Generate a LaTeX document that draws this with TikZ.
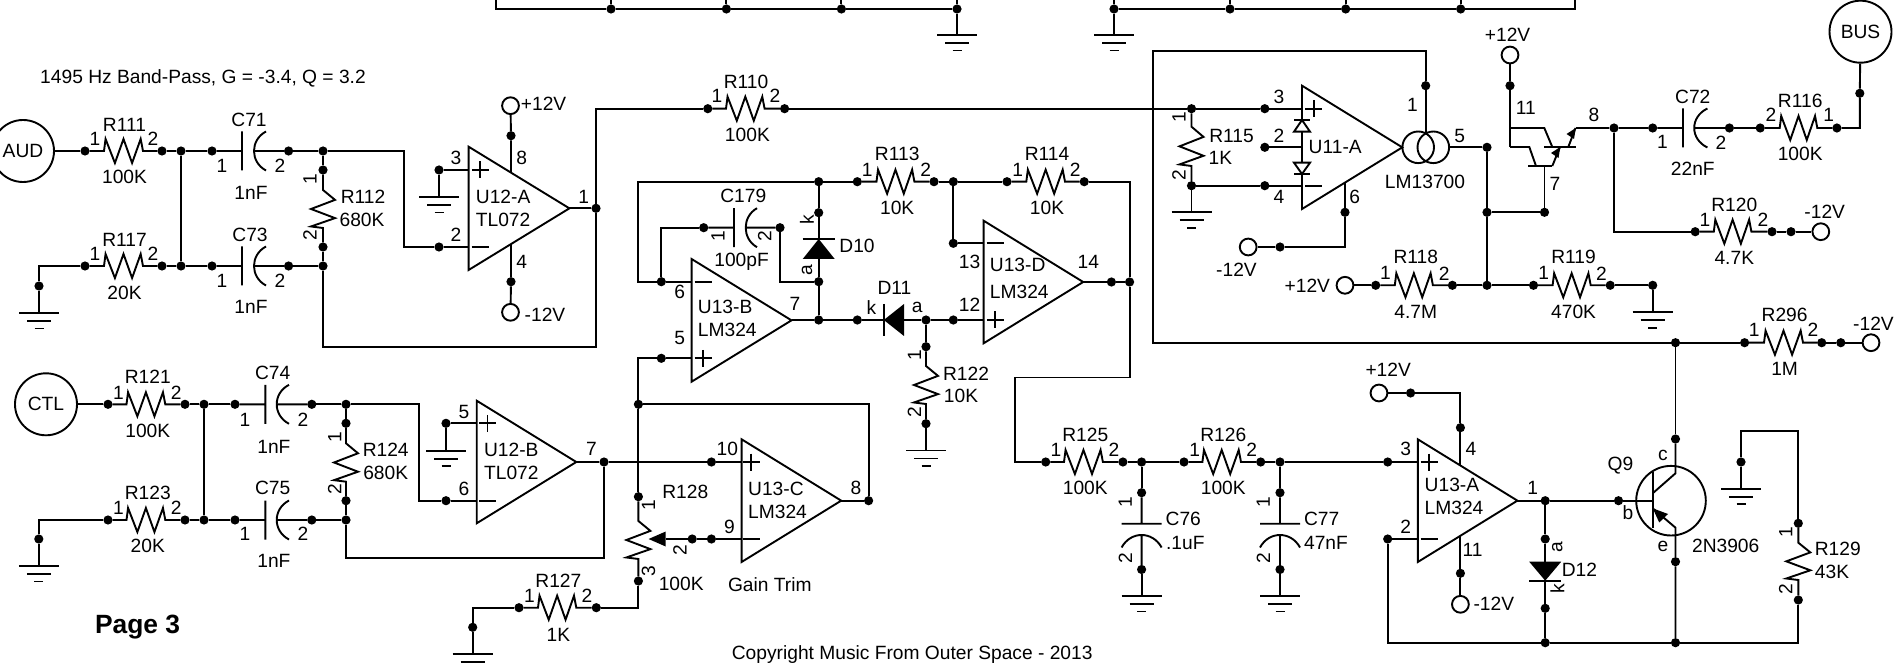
\documentclass[tikz,border=0pt]{standalone}
\usepackage{fontspec}
\setmainfont{Liberation Sans}
\newcount\tcnt
\tikzset{
  wire/.style={line width=0.95pt,line join=miter},
  jdot/.style={circle,fill=black,inner sep=0pt,minimum size=4.6pt,line width=0pt},
  termc/.style={circle,draw,line width=0.95pt,inner sep=0pt,minimum size=8.4pt},
  portc/.style={circle,draw,line width=0.95pt,inner sep=0pt,minimum size=31pt,font=\fontsize{9.6pt}{11pt}\selectfont},
  lbl/.style={inner sep=0pt,font=\fontsize{9.6pt}{11pt}\selectfont},
}
\newcommand{\dt}[3]{\node[jdot] (#1) at (#2,#3) {};}
\newcommand{\tx}[3]{\global\advance\tcnt by 1 \node[lbl] (txt\the\tcnt) at (#1,#2) {#3};}
\newcommand{\tl}[3]{\global\advance\tcnt by 1 \node[lbl,anchor=west] (txt\the\tcnt) at (#1,#2) {#3};}
\newcommand{\tr}[3]{\global\advance\tcnt by 1 \node[lbl,rotate=90] (txt\the\tcnt) at (#1,#2) {#3};}
\newcommand{\term}[3]{\node[termc] (#1) at (#2,#3) {};}
\newcommand{\gnd}[3]{\coordinate (#1) at (#2,#3);
  \draw[wire] (#2-20,#3) -- (#2+20,#3) (#2-12,#3+8) -- (#2+12,#3+8) (#2-4.5,#3+15.5) -- (#2+4.5,#3+15.5);}
% horizontal resistor: dots a,b ; zig x1..x2 ; y
\newcommand{\resH}[5]{\pgfmathsetmacro\zw{#4-#3}
  \draw[wire] (#1) -- (#3,#5) -- ({#3+.04*\zw},#5-12) -- ({#3+.28*\zw},#5+12) -- ({#3+.5*\zw},#5-12) -- ({#3+.72*\zw},#5+12) -- ({#3+.94*\zw},#5-12) -- (#4,#5) -- (#2);}
% vertical resistor: dots a,b ; x ; y1..y2
\newcommand{\resV}[5]{\pgfmathsetmacro\zh{#5-#4}
  \draw[wire] (#1) -- (#3,#4) -- (#3+12,{#4+.26*\zh}) -- (#3-12,{#4+.5*\zh}) -- (#3+12,{#4+.74*\zh}) -- (#3-12,{#4+.96*\zh}) -- (#3,#5) -- (#2);}
% horizontal cap: a,b, plate x, arc mid x, arc tip x, y
\newcommand{\capH}[6]{\pgfmathsetmacro\zc{#4-(#5-#4)/3}
  \draw[wire] (#1) -- (#3,#6) (#3,#6-19.5) -- (#3,#6+19.5) (#5,#6-19.5) .. controls (\zc,#6-11) and (\zc,#6+11) .. (#5,#6+19.5) (#4,#6) -- (#2);}
% vertical cap: a,b, x, plate y, arc mid y, arc tip y
\newcommand{\capV}[6]{\pgfmathsetmacro\zc{#5-(#6-#5)/3}
  \draw[wire] (#1) -- (#3,#4) (#3-20,#4) -- (#3+20,#4) (#3-20,#6) .. controls (#3-11,\zc) and (#3+11,\zc) .. (#3+20,#6) (#3,#5) -- (#2);}
% opamp: xl, ytop, ybot, xtip
\newcommand{\opamp}[4]{\draw[wire] (#1,#2) -- (#1,#3) -- (#4,{(#2+#3)/2}) -- cycle;}
\newcommand{\plusm}[2]{\draw[wire] (#1-8.5,#2) -- (#1+8.5,#2) (#1,#2-8.5) -- (#1,#2+8.5);}
\newcommand{\minusm}[2]{\draw[wire] (#1-8.5,#2) -- (#1+8.5,#2);}
\begin{document}
\begin{tikzpicture}[x=0.5pt,y=-0.5pt]
\clip (0,0) rectangle (1896,663);
% ---------- top strip
\dt{p1}{611}{9}\dt{p2}{726.4}{9}\dt{p3}{841.4}{9}\dt{p4}{957}{9}
\dt{q1}{1114}{9}\dt{q2}{1230}{9}\dt{q3}{1345.7}{9}\dt{q4}{1460.7}{9}
\coordinate (pc) at (495.7,9); \coordinate (qc) at (1575,9);
\coordinate (pt0) at (495.7,0); \coordinate (qt0) at (1575,0);
\draw[wire] (pt0) -- (pc) -- (p1) -- (p2) -- (p3) -- (p4);
\draw[wire] (q1) -- (q2) -- (q3) -- (q4) -- (qc) -- (qt0);
\draw[wire] (p1) -- (611,0) (p2) -- (726.4,0) (p3) -- (841.4,0) (p4) -- (957,0);
\draw[wire] (q1) -- (1114,0) (q2) -- (1230,0) (q3) -- (1345.7,0) (q4) -- (1460.7,0);
\gnd{gp}{957}{35}\gnd{gq}{1114}{35}
\draw[wire] (p4) -- (gp); \draw[wire] (q1) -- (gq);
% ---------- title texts
\tx{203}{78}{1495 Hz Band-Pass, G = -3.4, Q = 3.2}
\global\advance\tcnt by 1 \node[inner sep=0pt,font=\fontsize{13.2pt}{15pt}\selectfont\bfseries] (txtpage) at (137.6,627) {Page 3};
\tx{912.2}{655}{Copyright Music From Outer Space - 2013}
% ---------- AUD section
\node[portc] (aud) at (23,151) {AUD};
\dt{a1}{85}{151}\dt{a2}{162}{151}\dt{a3}{181}{151}\dt{a4}{212}{151}\dt{a5}{288.6}{151}\dt{a6}{323}{151}\dt{a7}{323}{170}\dt{a8}{323}{247}
\dt{b1}{85}{266}\dt{b2}{162}{266}\dt{b3}{181}{266}\dt{b4}{212}{266}\dt{b5}{288.6}{266}\dt{b6}{323}{266}\dt{b7}{39}{286}
\draw[wire] (aud) -- (a1);
\resH{a1}{a2}{104}{143}{151}
\draw[wire] (a2) -- (a3) -- (a4);
\capH{a4}{a5}{242}{254}{266}{151}
\draw[wire] (a5) -- (a6) -- (a7);
\resV{a7}{a8}{323}{190}{228}
\draw[wire] (a8) -- (b6);
\draw[wire] (a3) -- (b3);
\gnd{g1}{39}{313}
\draw[wire] (b1) -- (39,266) -- (b7) -- (g1);
\resH{b1}{b2}{104}{143}{266}
\draw[wire] (b2) -- (b3) -- (b4);
\capH{b4}{b5}{242}{254}{266}{266}
\draw[wire] (b5) -- (b6);
\tx{124.5}{125}{R111}\tx{95}{139}{1}\tx{153}{139}{2}\tx{124.5}{177}{100K}
\tx{249}{120}{C71}\tx{222}{166}{1}\tx{280}{166}{2}\tx{251}{193}{1nF}
\tx{124.5}{240}{R117}\tx{95}{254}{1}\tx{153}{254}{2}\tx{124.5}{293}{20K}
\tx{250}{235}{C73}\tx{222}{281}{1}\tx{280}{281}{2}\tx{251}{307}{1nF}
\tr{310}{179}{1}\tr{310}{235}{2}\tx{363}{197}{R112}\tx{362}{220}{680K}
% U12-A
\opamp{468.6}{146.7}{270}{569.4}
\plusm{480.4}{170}\minusm{480}{247}
\dt{a9}{439}{247}\dt{a10}{439}{170}\dt{a11}{511}{135.7}\dt{a12}{511}{281.7}\dt{a13}{596}{208.3}
\coordinate (u12am) at (468.6,247); \coordinate (u12ap) at (468.6,170); \coordinate (u12at) at (569.4,208.3);
\coordinate (u12av) at (511,172.6); \coordinate (u12ae) at (511,244);
\draw[wire] (a6) -- (404,151) -- (404,247) -- (a9) -- (u12am);
\draw[wire] (a10) -- (u12ap);
\gnd{g2}{439}{197}
\draw[wire] (a10) -- (g2);
\term{t1}{510.5}{105.7}\term{t2}{510.5}{312.3}
\draw[wire] (u12av) -- (a11) -- (t1);
\draw[wire] (u12ae) -- (a12) -- (t2);
\draw[wire] (u12at) -- (a13);
\draw[wire] (a13) -- (596,346.7) -- (323,346.7) -- (b6);
\dt{c1}{707.8}{108.7}\dt{c2}{784.6}{108.7}\dt{d1}{1191.5}{108.7}
\draw[wire] (a13) -- (596,108.7) -- (c1);
\resH{c1}{c2}{726}{764.6}{108.7}
\draw[wire] (c2) -- (d1);
\tx{456}{158}{3}\tx{456}{235}{2}\tx{521.6}{158}{8}\tx{521.6}{262}{4}\tx{583.7}{197}{1}
\tl{475.5}{197}{U12-A}\tl{475.5}{220}{TL072}
\tx{543.6}{104}{+12V}\tx{545}{315}{-12V}
\tx{746}{82}{R110}\tx{717}{96}{1}\tx{775}{96}{2}\tx{747.4}{135}{100K}
% ---------- CTL section
\node[portc] (ctl) at (46,404.3) {CTL};
\dt{g11}{108}{404.3}\dt{g12}{185}{404.3}\dt{g13}{204}{404.3}\dt{g14}{235}{404.3}\dt{g15}{311.8}{404.3}\dt{g16}{346}{404.3}\dt{g17}{346}{423.3}\dt{g18}{346}{500.7}
\dt{g21}{108}{520}\dt{g22}{185}{520}\dt{g23}{204}{520}\dt{g24}{235}{520}\dt{g25}{311.8}{520}\dt{g26}{346}{520}\dt{g27}{38.8}{539}
\draw[wire] (ctl) -- (g11);
\resH{g11}{g12}{126.5}{165.3}{404.3}
\draw[wire] (g12) -- (g13) -- (g14);
\capH{g14}{g15}{265.3}{276.7}{289}{404.3}
\draw[wire] (g15) -- (g16) -- (g17);
\resV{g17}{g18}{346}{443.3}{481.7}
\draw[wire] (g18) -- (g26);
\draw[wire] (g13) -- (g23);
\gnd{g3}{38.8}{566}
\draw[wire] (g21) -- (38.8,520) -- (g27) -- (g3);
\resH{g21}{g22}{126.5}{165.3}{520}
\draw[wire] (g22) -- (g23) -- (g24);
\capH{g24}{g25}{265.3}{276.7}{289}{520}
\draw[wire] (g25) -- (g26);
\tx{147.8}{377}{R121}\tx{118.4}{392.7}{1}\tx{176.3}{392.7}{2}\tx{147.8}{430.7}{100K}
\tx{272.7}{373.3}{C74}\tx{245}{420}{1}\tx{302.9}{420}{2}\tx{273.9}{447.3}{1nF}
\tx{147.8}{492.7}{R123}\tx{118.4}{507.7}{1}\tx{176.3}{507.7}{2}\tx{147.8}{545.7}{20K}
\tx{272.7}{488.3}{C75}\tx{245}{534}{1}\tx{302.9}{534}{2}\tx{273.9}{560.7}{1nF}
\tr{334.7}{436.7}{1}\tr{334.7}{489}{2}\tx{385.7}{450}{R124}\tx{385.7}{473.3}{680K}
% U12-B
\opamp{476.7}{400.7}{523.3}{576.3}
\plusm{487.5}{423.3}\minusm{487.5}{500.7}
\dt{f5}{446}{423.3}\dt{f6}{446}{500.7}\dt{f1}{604}{462}\dt{f2}{711.4}{462}
\coordinate (u12bp) at (476.7,423.3); \coordinate (u12bm) at (476.7,500.7); \coordinate (u12bt) at (576.3,462);
\draw[wire] (g16) -- (418.8,404.3) -- (418.8,500.7) -- (f6) -- (u12bm);
\draw[wire] (f5) -- (u12bp);
\gnd{g4}{446}{450.7}
\draw[wire] (f5) -- (g4);
\coordinate (u13cp) at (741.6,462);
\draw[wire] (u12bt) -- (f1) -- (f2) -- (u13cp);
\draw[wire] (f1) -- (604,558.3) -- (346,558.3) -- (g26);
\tx{464}{411.7}{5}\tx{464}{489}{6}\tx{591.4}{449.3}{7}
\tl{483.7}{450}{U12-B}\tl{483.7}{473.3}{TL072}
% R127 / R128 / U13-C
\dt{r1}{519}{607.7}\dt{r2}{596.3}{607.7}\dt{r3}{472.7}{627.3}
\gnd{g5}{472.7}{654}
\draw[wire] (r1) -- (472.7,607.7) -- (r3) -- (g5);
\resH{r1}{r2}{538}{576.3}{607.7}
\tx{558.4}{580.7}{R127}\tx{529.4}{596}{1}\tx{587}{596}{2}\tx{558.4}{635}{1K}
\dt{e1}{661.3}{358.3}\dt{e2}{661.3}{281.7}\dt{e3}{638.4}{404.3}\dt{e4}{638.4}{496.7}\dt{e5}{638.4}{581}\dt{e6}{868.6}{500.7}\dt{e7}{692.2}{539}\dt{e8}{711.4}{539}
\coordinate (u13bp) at (691.6,358.3); \coordinate (u13bm) at (691.6,281.7); \coordinate (u13ct) at (841.2,500.7); \coordinate (u13cm) at (741.6,539); \coordinate (wip) at (665.7,539);
\draw[wire] (e1) -- (u13bp);
\draw[wire] (e1) -- (638.4,358.3) -- (e3) -- (e4);
\draw[wire] (e3) -- (868.6,404.3) -- (e6);
\draw[wire] (u13ct) -- (e6);
\resV{e4}{e5}{638.4}{521}{559}
\draw[wire] (e5) -- (638.4,607.7) -- (r2);
\fill (648.6,539) -- (665.7,531.5) -- (665.7,546.5) -- cycle;
\draw[wire] (wip) -- (e7) -- (e8) -- (u13cm);
\opamp{741.6}{439.3}{562}{841.2}
\plusm{751.4}{462}\minusm{751.4}{539}
\tx{685.3}{492.3}{R128}\tr{648.6}{505}{1}\tr{648.6}{571}{3}\tr{680}{550.3}{2}\tx{681.2}{584.3}{100K}\tx{769.8}{584.3}{Gain Trim}
\tx{727.3}{449.3}{10}\tx{729.4}{526.7}{9}\tx{856}{488.3}{8}
\tl{747.8}{489}{U13-C}\tl{747.8}{511.7}{LM324}
% U13-B
\opamp{691.6}{259}{381.7}{791.5}
\plusm{703}{358.3}\minusm{703}{281.7}
\dt{h1}{818.7}{181.7}\dt{h2}{703.7}{227.7}\dt{h3}{780}{227.7}\dt{h4}{818.7}{281.7}\dt{h5}{818.7}{212.7}\dt{h6}{818.7}{320}
\dt{h7}{857.3}{181.7}\dt{h8}{934}{181.7}\dt{h9}{953.3}{181.7}\dt{h10}{1007}{181.7}\dt{h11}{1084.2}{181.7}\dt{h12}{1129.6}{282}
\dt{h13}{953.3}{243.3}\dt{h14}{857.3}{320}\dt{h15}{926}{320}\dt{h16}{953.3}{320}\dt{h17}{926}{346.7}\dt{h18}{926}{423.7}\dt{h19}{1111.4}{282}
\draw[wire] (e2) -- (u13bm);
\draw[wire] (e2) -- (638,281.7) -- (638,181.7) -- (h1);
\draw[wire] (e2) -- (661.3,227.7) -- (h2);
\capH{h2}{h3}{734}{745.7}{757}{227.7}
\draw[wire] (h3) -- (780,281.7) -- (h4);
\draw[wire] (h1) -- (h5) -- (818.7,239);
\draw[wire] (h4) -- (818.7,259);
\draw[wire] (802.7,239) -- (834.7,239);
\fill (818.7,239) -- (834.7,259) -- (802.7,259) -- cycle;
\draw[wire] (h4) -- (h6);
\draw[wire] (h1) -- (h7);
\resH{h7}{h8}{876.5}{914.4}{181.7}
\draw[wire] (h8) -- (h9) -- (h10);
\resH{h10}{h11}{1026.3}{1065}{181.7}
\draw[wire] (h9) -- (h13);
\coordinate (u13dm) at (983.6,243.3); \coordinate (u13dp) at (983.6,320); \coordinate (u13dt) at (1083.2,282); \coordinate (u13bt) at (791.5,320);
\draw[wire] (h13) -- (u13dm);
\draw[wire] (u13bt) -- (h6) -- (h14) -- (883.8,320);
\draw[wire] (883.8,304) -- (883.8,336);
\fill (883.8,320) -- (904,304) -- (904,336) -- cycle;
\draw[wire] (904,320) -- (h15) -- (h16) -- (u13dp);
\draw[wire] (h15) -- (h17);
\resV{h17}{h18}{926}{366}{404}
\gnd{g6}{926}{450.5}
\draw[wire] (h18) -- (g6);
\opamp{983.6}{220.7}{343.3}{1083.2}
\plusm{995.3}{320}\minusm{995}{243.3}
\draw[wire] (u13dt) -- (h19) -- (h12);
\dt{i1}{1045.7}{462}
\draw[wire] (h11) -- (1129.6,181.7) -- (h12) -- (1129.6,377.5) -- (1014.6,377.5) -- (1014.6,462) -- (i1);
\tx{897.2}{154.3}{R113}\tx{867.2}{170}{1}\tx{925.8}{170}{2}\tx{897.2}{208.3}{10K}
\tx{1047}{154.3}{R114}\tx{1017.7}{170}{1}\tx{1075.2}{170}{2}\tx{1047}{208.3}{10K}
\tx{743.3}{196}{C179}\tr{718}{235.7}{1}\tr{764.6}{235.7}{2}\tx{741.6}{261.7}{100pF}
\tr{807}{220}{k}\tr{807}{270}{a}\tx{857}{246}{D10}
\tx{894.4}{288.3}{D11}\tx{871.4}{307.7}{k}\tx{917.2}{307.7}{a}
\tr{914.4}{355}{1}\tr{914.4}{411.7}{2}\tx{966}{373.3}{R122}\tx{961}{396}{10K}
\tx{969.5}{261.7}{13}\tx{969.5}{304.3}{12}\tx{1088.3}{261.7}{14}\tx{795}{304.3}{7}\tx{679.6}{292.3}{6}\tx{679.6}{338.3}{5}
\tl{697.5}{307.3}{U13-B}\tl{697.5}{330}{LM324}\tl{989.5}{265}{U13-D}\tl{989.5}{292.3}{LM324}
% R125 R126 C76 C77
\dt{i2}{1122.9}{462}\dt{i3}{1141.6}{462}\dt{i4}{1184}{462}\dt{i5}{1260.7}{462}\dt{i6}{1280}{462}\dt{i7}{1387.7}{462}
\dt{j1}{1141.6}{492.7}\dt{j2}{1141.6}{569.5}\dt{j3}{1280}{492.7}\dt{j4}{1280}{569.5}
\resH{i1}{i2}{1064}{1102.9}{462}
\draw[wire] (i2) -- (i3) -- (i4);
\resH{i4}{i5}{1202.4}{1241}{462}
\draw[wire] (i5) -- (i6) -- (i7);
\coordinate (u13ap) at (1417.8,462);
\draw[wire] (i7) -- (u13ap);
\draw[wire] (i3) -- (j1);\draw[wire] (i6) -- (j3);
\capV{j1}{j2}{1141.6}{523.7}{535}{547.5}
\capV{j3}{j4}{1280}{523.7}{535}{547.5}
\gnd{g7}{1141.6}{596}\gnd{g8}{1280}{596}
\draw[wire] (j2) -- (g7);\draw[wire] (j4) -- (g8);
\tx{1085.3}{434.7}{R125}\tx{1056}{450}{1}\tx{1113.9}{450}{2}\tx{1085.3}{488.3}{100K}
\tx{1223.3}{434.7}{R126}\tx{1194.7}{450}{1}\tx{1251.8}{450}{2}\tx{1223.3}{488.3}{100K}
\tr{1125.3}{501.7}{1}\tr{1125.3}{558.3}{2}\tx{1183.3}{519.3}{C76}\tx{1185.3}{542.5}{.1uF}
\tr{1263.3}{501.7}{1}\tr{1263.3}{558.3}{2}\tx{1321.7}{519.3}{C77}\tx{1326}{542.7}{47nF}
% U13-A
\opamp{1417.8}{439.3}{562}{1517.4}
\plusm{1429.2}{462}\minusm{1429.2}{539}
\dt{k1}{1387.7}{539}\dt{k2}{1545.2}{642.7}\dt{k3}{1675.5}{642.7}\dt{k4}{1460.4}{427.7}\dt{k5}{1410.6}{393}\dt{k6}{1460.4}{573.3}\dt{k7}{1545.2}{500.7}\dt{k8}{1618.5}{500.7}\dt{k9}{1545.2}{539}\dt{k10}{1545.2}{608.3}\dt{k11}{1675.5}{439}\dt{k12}{1675.5}{561.7}
\dt{m0}{1741}{462}\dt{m1}{1798.3}{523.3}\dt{m2}{1798.3}{600}
\term{t3}{1379}{393}\term{t4}{1460.4}{604.3}
\coordinate (u13am) at (1417.8,539); \coordinate (u13av) at (1460.4,465.6); \coordinate (u13ae) at (1460.4,535.7); \coordinate (u13at) at (1517.4,500.7);
\draw[wire] (k1) -- (u13am);
\draw[wire] (k1) -- (1387.7,642.7) -- (k2) -- (k3) -- (1798.3,642.7) -- (m2);
\draw[wire] (u13av) -- (k4) -- (1460.4,393) -- (k5) -- (t3);
\draw[wire] (u13ae) -- (k6) -- (t4);
\coordinate (q9b) at (1652.7,500.7);
\draw[wire] (u13at) -- (k7) -- (k8) -- (q9b);
\draw[wire] (k7) -- (k9) -- (1545.2,561.7);
\fill (1545.2,580.7) -- (1529.2,561.7) -- (1561.2,561.7) -- cycle;
\draw[wire] (1529.2,580.7) -- (1561.2,580.7);
\draw[wire] (1545.2,580.7) -- (k10) -- (k2);
\node[circle,draw,line width=0.95pt,inner sep=0pt,minimum size=34.8pt] (q9) at (1671,500.7) {};
\draw[wire] (1652.7,471.7) -- (1652.7,528.3);
\draw[wire] (1652.7,493.3) -- (1675.5,473.3) -- (k11);
\draw[wire] (1652.7,508.3) -- (1675.5,527.7) -- (k12) -- (k3);
\fill (1652.7,508.3) -- (1668,514) -- (1659.2,522.5) -- cycle;
\gnd{g9}{1741}{488.7}
\draw[wire] (m0) -- (g9);
\draw[wire] (m0) -- (1741,431) -- (1798.3,431) -- (m1);
\resV{m1}{m2}{1798.3}{542.7}{580}
\tx{1405.7}{449.3}{3}\tx{1405.7}{526.7}{2}\tx{1471}{449.3}{4}\tx{1472.6}{550}{11}\tx{1532.6}{488.3}{1}
\tl{1424.3}{485}{U13-A}\tl{1424.3}{507.7}{LM324}
\tx{1388.2}{369.3}{+12V}\tx{1493.8}{603.3}{-12V}
\tr{1557.3}{546.7}{a}\tr{1557.3}{588.3}{k}\tx{1579.4}{569.3}{D12}
\tx{1620.4}{465.7}{Q9}\tx{1663}{455}{c}\tx{1628}{512.3}{b}\tx{1663}{546.7}{e}\tx{1725.7}{545.7}{2N3906}
\tr{1785.7}{531.7}{1}\tr{1785.7}{589.3}{2}\tx{1837.8}{549.3}{R129}\tx{1832}{572.3}{43K}
% ---------- U11-A
\opamp{1302}{85.7}{209}{1402.3}
\plusm{1313.7}{108.7}\minusm{1313.7}{185.7}
\dt{d2}{1264.8}{108.7}\dt{d3}{1264.8}{147.3}\dt{d4}{1264.8}{185.7}\dt{d5}{1191.5}{185.7}
\coordinate (u11p) at (1302,108.7); \coordinate (u11m) at (1302,185.7); \coordinate (u11b) at (1302,147.3);
\draw[wire] (d1) -- (d2) -- (u11p);
\draw[wire] (d5) -- (d4) -- (u11m);
\draw[wire] (d3) -- (u11b);
\resV{d1}{d5}{1191.5}{126.7}{166}
\gnd{g10}{1191.5}{212.3}
\draw[wire] (d5) -- (g10);
\draw[wire,fill=white] (1302,120) -- (1310,131.7) -- (1294,131.7) -- cycle;
\draw[wire] (1294,120) -- (1310,120);
\draw[wire,fill=white] (1302,174) -- (1310,162.7) -- (1294,162.7) -- cycle;
\draw[wire] (1294,174) -- (1310,174);
\node[circle,draw,line width=0.95pt,inner sep=0pt,minimum size=15.8pt] (ota1) at (1418.2,147.3) {};
\node[circle,draw,line width=0.95pt,inner sep=0pt,minimum size=15.8pt] (ota2) at (1433.3,147.3) {};
\dt{w1}{1425.7}{85.7}\dt{w2}{1487}{147.3}\dt{w3}{1487}{212.3}\dt{w4}{1487}{285.3}
\coordinate (otap) at (1425.7,132.8);
\draw[wire] (otap) -- (w1) -- (1425.7,51) -- (1153,51) -- (1153,342.7) -- (1675.5,342.7);
\draw[wire] (ota2) -- (w2) -- (w3) -- (w4);
\dt{x1}{1345}{212.3}\dt{x2}{1280}{247}\term{t5}{1248.2}{247}
\coordinate (u11e) at (1345,182.7);
\draw[wire] (u11e) -- (x1) -- (1345,247) -- (x2) -- (t5);
\tr{1178.9}{116.7}{1}\tr{1178.9}{175}{2}\tx{1231.6}{136}{R115}\tx{1220.4}{158.3}{1K}
\tx{1279}{96.7}{3}\tx{1279}{136}{2}\tx{1279}{197.3}{4}\tx{1335.2}{146.7}{U11-A}\tx{1412.4}{105}{1}\tx{1459.8}{136}{5}\tx{1354.7}{196.7}{6}\tx{1425}{181.7}{LM13700}\tx{1236.5}{269.3}{-12V}
% R118 R119
\term{t6}{1345}{285.3}
\dt{y1}{1375.7}{285.3}\dt{y2}{1452.4}{285.3}\dt{y3}{1533.5}{285.3}\dt{y4}{1610.2}{285.3}\dt{y5}{1652.7}{285.3}
\draw[wire] (t6) -- (y1);
\resH{y1}{y2}{1394.8}{1432.9}{285.3}
\draw[wire] (y2) -- (w4) -- (y3);
\resH{y3}{y4}{1552.6}{1590.7}{285.3}
\gnd{g11g}{1652.7}{312.3}
\draw[wire] (y4) -- (y5) -- (g11g);
\tx{1307.3}{285.3}{+12V}
\tx{1415.8}{257.3}{R118}\tx{1385.5}{273.3}{1}\tx{1444.1}{273.3}{2}\tx{1415.8}{311.7}{4.7M}
\tx{1573.6}{257.3}{R119}\tx{1543.8}{273.3}{1}\tx{1601.4}{273.3}{2}\tx{1573.6}{311.7}{470K}
% darlington
\term{t7}{1510}{55}\dt{v1}{1510}{85.7}\dt{v2}{1544.5}{212.3}
\draw[wire] (t7) -- (v1) -- (1510,147);
\draw[wire] (1510,128) -- (1544.3,128) -- (1552.3,147);
\draw[wire] (1510,147) -- (1529.3,147) -- (1536,166);
\draw[wire] (1544.3,147) -- (1575.7,147);
\draw[wire] (1528.3,166) -- (1551.7,166);
\draw[wire] (1568.3,147) -- (1575.5,128);
\fill (1575.8,128) -- (1566.5,134) -- (1574,139) -- cycle;
\draw[wire] (1552.3,166) -- (1560,147);
\fill (1560.3,147) -- (1551,153) -- (1558.5,158) -- cycle;
\draw[wire] (1544.5,166) -- (v2) -- (w3);
\tx{1507.6}{35}{+12V}\tx{1525.7}{108.3}{11}\tx{1594}{115}{8}\tx{1555}{184}{7}
% C72 R116 BUS
\dt{s1}{1614}{128}\dt{s2}{1652.7}{128}\dt{s3}{1729.4}{128}\dt{s4}{1760.2}{128}\dt{s5}{1836.9}{128}\dt{s6}{1859.8}{93.3}
\coordinate (dq) at (1575.5,128);
\draw[wire] (dq) -- (s1) -- (s2);
\capH{s2}{s3}{1683}{1694.2}{1707.4}{128}
\draw[wire] (s3) -- (s4);
\resH{s4}{s5}{1779.7}{1817.3}{128}
\node[portc] (bus) at (1860.5,31.7) {BUS};
\draw[wire] (s5) -- (1859.8,128) -- (s6) -- (bus);
\tx{1692.8}{96.7}{C72}\tx{1662.5}{142.3}{1}\tx{1721}{142.3}{2}\tx{1692.8}{169}{22nF}
\tx{1800.2}{100.7}{R116}\tx{1771}{115}{2}\tx{1828.6}{115}{1}\tx{1800.2}{154.3}{100K}
% R120
\dt{s7}{1695.2}{231.7}\dt{s8}{1772}{231.7}\dt{s9}{1791}{231.7}\term{t8}{1820.8}{231.7}
\draw[wire] (s1) -- (1614,231.7) -- (s7);
\resH{s7}{s8}{1713.8}{1751.4}{231.7}
\draw[wire] (s8) -- (s9) -- (t8);
\tx{1734.3}{205}{R120}\tx{1705}{220}{1}\tx{1763}{220}{2}\tx{1734.3}{257.7}{4.7K}\tx{1824.7}{211.7}{-12V}
% R296
\dt{n1}{1675.5}{342.7}\dt{n2}{1744.6}{342.7}\dt{n3}{1821.7}{342.7}\dt{n4}{1840.8}{342.7}\term{t9}{1871}{342.7}
\draw[wire] (n1) -- (k11);
\draw[wire] (n1) -- (n2);
\resH{n2}{n3}{1764}{1803}{342.7}
\draw[wire] (n3) -- (n4) -- (t9);
\tx{1784.6}{315}{R296}\tx{1754.3}{330}{1}\tx{1813}{330}{2}\tx{1784.6}{369.3}{1M}\tx{1873.5}{323.3}{-12V}
\end{tikzpicture}
\end{document}
